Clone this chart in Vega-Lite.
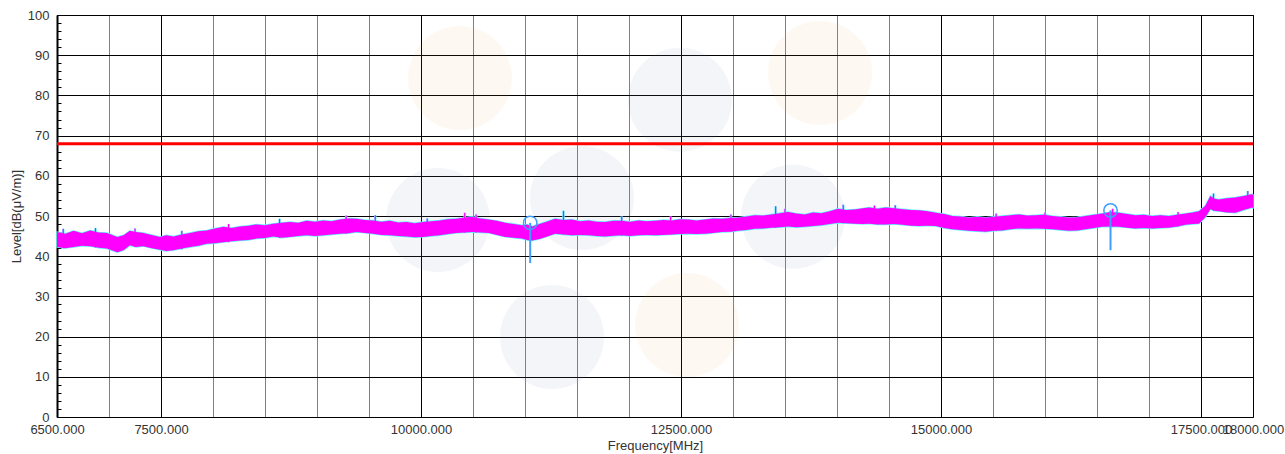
{
  "$schema": "https://vega.github.io/schema/vega-lite/v6.json",
  "width": 1196,
  "height": 402,
  "autosize": {"type": "none"},
  "padding": {"left": 57, "top": 15, "right": 32, "bottom": 37},
  "background": "white",
  "config": {
    "view": {"stroke": "black", "strokeWidth": 1},
    "font": "Liberation Sans"
  },
  "datasets": {
    "watermark": [
      {"f": 10375, "lo": 84.3, "kind": "o"},
      {"f": 13837, "lo": 85.6, "kind": "o"},
      {"f": 12558, "lo": 22.9, "kind": "o"},
      {"f": 12490, "lo": 78.9, "kind": "b"},
      {"f": 11548, "lo": 54.5, "kind": "b"},
      {"f": 10163, "lo": 49.0, "kind": "b"},
      {"f": 11260, "lo": 19.9, "kind": "b"},
      {"f": 13577, "lo": 49.8, "kind": "b"}
    ],
    "trace": [
      {"f": 6500, "hi": 46.0, "lo": 42.3}, {"f": 6580, "hi": 45.6, "lo": 42.0}, {"f": 6660, "hi": 46.3, "lo": 42.3},
      {"f": 6740, "hi": 45.7, "lo": 42.6}, {"f": 6820, "hi": 46.4, "lo": 42.5}, {"f": 6900, "hi": 45.9, "lo": 42.1},
      {"f": 6980, "hi": 45.8, "lo": 41.9}, {"f": 7080, "hi": 44.8, "lo": 41.0}, {"f": 7140, "hi": 45.2, "lo": 41.5},
      {"f": 7200, "hi": 46.3, "lo": 42.7}, {"f": 7260, "hi": 46.0, "lo": 42.3}, {"f": 7330, "hi": 45.8, "lo": 42.5},
      {"f": 7410, "hi": 45.3, "lo": 42.0}, {"f": 7490, "hi": 44.8, "lo": 41.6}, {"f": 7550, "hi": 45.2, "lo": 41.3},
      {"f": 7620, "hi": 44.9, "lo": 41.5}, {"f": 7700, "hi": 45.4, "lo": 41.9}, {"f": 7780, "hi": 45.8, "lo": 42.3},
      {"f": 7860, "hi": 46.2, "lo": 42.6}, {"f": 7940, "hi": 46.4, "lo": 43.1}, {"f": 8020, "hi": 46.9, "lo": 43.2},
      {"f": 8100, "hi": 47.3, "lo": 43.5}, {"f": 8180, "hi": 47.0, "lo": 43.7}, {"f": 8260, "hi": 47.4, "lo": 43.9},
      {"f": 8340, "hi": 47.6, "lo": 44.0}, {"f": 8420, "hi": 47.9, "lo": 44.4}, {"f": 8500, "hi": 47.7, "lo": 44.5},
      {"f": 8580, "hi": 48.1, "lo": 44.9}, {"f": 8660, "hi": 48.3, "lo": 44.6}, {"f": 8740, "hi": 48.5, "lo": 44.8},
      {"f": 8820, "hi": 48.3, "lo": 45.0}, {"f": 8900, "hi": 48.8, "lo": 45.2}, {"f": 8980, "hi": 48.6, "lo": 45.0},
      {"f": 9060, "hi": 48.9, "lo": 45.2}, {"f": 9140, "hi": 48.7, "lo": 45.4}, {"f": 9220, "hi": 49.1, "lo": 45.6},
      {"f": 9300, "hi": 49.4, "lo": 45.7}, {"f": 9380, "hi": 49.3, "lo": 46.0}, {"f": 9460, "hi": 49.0, "lo": 45.8},
      {"f": 9540, "hi": 48.9, "lo": 45.6}, {"f": 9620, "hi": 48.6, "lo": 45.3}, {"f": 9700, "hi": 48.8, "lo": 45.2},
      {"f": 9780, "hi": 48.4, "lo": 45.0}, {"f": 9860, "hi": 48.5, "lo": 44.9}, {"f": 9940, "hi": 48.2, "lo": 44.7},
      {"f": 10020, "hi": 48.5, "lo": 44.8}, {"f": 10100, "hi": 48.7, "lo": 45.0}, {"f": 10180, "hi": 48.9, "lo": 45.2},
      {"f": 10260, "hi": 49.2, "lo": 45.5}, {"f": 10340, "hi": 49.3, "lo": 45.8}, {"f": 10420, "hi": 49.6, "lo": 45.9},
      {"f": 10490, "hi": 49.8, "lo": 46.0}, {"f": 10570, "hi": 49.4, "lo": 45.9}, {"f": 10650, "hi": 49.1, "lo": 45.8},
      {"f": 10730, "hi": 48.8, "lo": 45.3}, {"f": 10810, "hi": 48.3, "lo": 44.8}, {"f": 10890, "hi": 48.0, "lo": 44.6},
      {"f": 10970, "hi": 47.7, "lo": 44.4}, {"f": 11020, "hi": 47.9, "lo": 44.0}, {"f": 11070, "hi": 47.4, "lo": 43.9},
      {"f": 11140, "hi": 48.0, "lo": 44.3}, {"f": 11200, "hi": 48.5, "lo": 44.8}, {"f": 11290, "hi": 49.3, "lo": 45.6},
      {"f": 11370, "hi": 49.0, "lo": 45.4}, {"f": 11450, "hi": 49.1, "lo": 45.2}, {"f": 11530, "hi": 48.7, "lo": 45.3},
      {"f": 11610, "hi": 48.9, "lo": 45.2}, {"f": 11690, "hi": 48.6, "lo": 45.0}, {"f": 11770, "hi": 48.5, "lo": 44.9},
      {"f": 11850, "hi": 48.8, "lo": 45.1}, {"f": 11930, "hi": 48.8, "lo": 45.2}, {"f": 12010, "hi": 48.6, "lo": 45.0},
      {"f": 12090, "hi": 48.9, "lo": 45.2}, {"f": 12170, "hi": 48.7, "lo": 45.3}, {"f": 12250, "hi": 48.8, "lo": 45.2},
      {"f": 12330, "hi": 49.0, "lo": 45.3}, {"f": 12410, "hi": 48.9, "lo": 45.4}, {"f": 12490, "hi": 49.2, "lo": 45.5},
      {"f": 12570, "hi": 49.1, "lo": 45.6}, {"f": 12650, "hi": 48.9, "lo": 45.5}, {"f": 12730, "hi": 49.1, "lo": 45.6},
      {"f": 12810, "hi": 49.4, "lo": 45.8}, {"f": 12890, "hi": 49.3, "lo": 46.0}, {"f": 12970, "hi": 49.5, "lo": 46.1},
      {"f": 13050, "hi": 49.6, "lo": 46.3}, {"f": 13130, "hi": 49.9, "lo": 46.5}, {"f": 13210, "hi": 50.2, "lo": 46.8},
      {"f": 13290, "hi": 50.1, "lo": 46.9}, {"f": 13370, "hi": 50.4, "lo": 47.1}, {"f": 13450, "hi": 50.7, "lo": 47.2},
      {"f": 13530, "hi": 51.0, "lo": 47.4}, {"f": 13610, "hi": 50.6, "lo": 47.2}, {"f": 13690, "hi": 50.4, "lo": 47.3},
      {"f": 13770, "hi": 50.9, "lo": 47.5}, {"f": 13850, "hi": 50.7, "lo": 47.7}, {"f": 13930, "hi": 51.2, "lo": 48.0},
      {"f": 14010, "hi": 51.8, "lo": 48.3}, {"f": 14090, "hi": 51.5, "lo": 48.2}, {"f": 14170, "hi": 51.6, "lo": 48.1},
      {"f": 14250, "hi": 51.9, "lo": 48.0}, {"f": 14310, "hi": 52.1, "lo": 48.1}, {"f": 14390, "hi": 51.8, "lo": 47.9},
      {"f": 14470, "hi": 52.1, "lo": 47.9}, {"f": 14550, "hi": 51.9, "lo": 48.0}, {"f": 14630, "hi": 51.7, "lo": 47.8},
      {"f": 14710, "hi": 51.5, "lo": 47.6}, {"f": 14790, "hi": 51.4, "lo": 47.5}, {"f": 14870, "hi": 51.2, "lo": 47.6},
      {"f": 14950, "hi": 50.8, "lo": 47.5}, {"f": 15030, "hi": 50.5, "lo": 47.0}, {"f": 15110, "hi": 50.0, "lo": 46.7},
      {"f": 15190, "hi": 49.9, "lo": 46.5}, {"f": 15270, "hi": 49.6, "lo": 46.3}, {"f": 15350, "hi": 49.8, "lo": 46.2},
      {"f": 15430, "hi": 49.6, "lo": 46.1}, {"f": 15510, "hi": 49.8, "lo": 46.3}, {"f": 15590, "hi": 50.0, "lo": 46.4},
      {"f": 15670, "hi": 50.2, "lo": 46.7}, {"f": 15750, "hi": 50.4, "lo": 46.9}, {"f": 15830, "hi": 50.1, "lo": 46.8},
      {"f": 15910, "hi": 50.2, "lo": 46.9}, {"f": 15990, "hi": 50.3, "lo": 46.8}, {"f": 16070, "hi": 50.0, "lo": 46.7},
      {"f": 16150, "hi": 49.8, "lo": 46.5}, {"f": 16230, "hi": 49.6, "lo": 46.3}, {"f": 16310, "hi": 49.7, "lo": 46.4},
      {"f": 16390, "hi": 50.0, "lo": 46.7}, {"f": 16470, "hi": 50.3, "lo": 47.0}, {"f": 16550, "hi": 50.6, "lo": 47.3},
      {"f": 16630, "hi": 51.0, "lo": 47.4}, {"f": 16710, "hi": 50.8, "lo": 47.3}, {"f": 16790, "hi": 50.5, "lo": 47.1},
      {"f": 16870, "hi": 50.2, "lo": 46.9}, {"f": 16950, "hi": 50.3, "lo": 47.0}, {"f": 17030, "hi": 50.0, "lo": 46.9},
      {"f": 17110, "hi": 50.2, "lo": 47.0}, {"f": 17190, "hi": 50.0, "lo": 47.1}, {"f": 17270, "hi": 50.3, "lo": 47.4},
      {"f": 17350, "hi": 50.6, "lo": 47.8}, {"f": 17420, "hi": 50.9, "lo": 48.0}, {"f": 17480, "hi": 51.2, "lo": 48.1},
      {"f": 17540, "hi": 52.5, "lo": 49.6}, {"f": 17590, "hi": 55.0, "lo": 51.7}, {"f": 17630, "hi": 54.3, "lo": 51.3},
      {"f": 17670, "hi": 54.1, "lo": 51.2}, {"f": 17750, "hi": 54.4, "lo": 50.9}, {"f": 17830, "hi": 54.6, "lo": 50.8},
      {"f": 17910, "hi": 55.0, "lo": 51.5}, {"f": 17990, "hi": 55.4, "lo": 52.1}, {"f": 18000, "hi": 55.3, "lo": 52.0}
    ],
    "spikes": [
      {"f": 6560, "lo": 42.0, "hi": 46.8}, {"f": 6870, "lo": 42.2, "hi": 47.0}, {"f": 7250, "lo": 42.3, "hi": 46.9},
      {"f": 7700, "lo": 41.7, "hi": 46.3}, {"f": 8150, "lo": 43.5, "hi": 48.0}, {"f": 8640, "lo": 44.6, "hi": 49.3},
      {"f": 9280, "lo": 45.6, "hi": 50.1}, {"f": 9560, "lo": 45.6, "hi": 50.2}, {"f": 10060, "lo": 44.9, "hi": 49.4},
      {"f": 10420, "lo": 45.9, "hi": 50.8}, {"f": 10530, "lo": 45.9, "hi": 50.4}, {"f": 11370, "lo": 45.4, "hi": 51.3},
      {"f": 11930, "lo": 45.1, "hi": 49.9}, {"f": 12400, "lo": 45.4, "hi": 49.9}, {"f": 12980, "lo": 46.1, "hi": 50.4},
      {"f": 13410, "lo": 47.1, "hi": 52.4}, {"f": 13500, "lo": 47.3, "hi": 51.8}, {"f": 14060, "lo": 48.2, "hi": 52.8},
      {"f": 14360, "lo": 48.0, "hi": 52.6}, {"f": 14560, "lo": 48.0, "hi": 52.7}, {"f": 15530, "lo": 46.3, "hi": 50.6},
      {"f": 16000, "lo": 46.8, "hi": 50.9}, {"f": 16650, "lo": 47.4, "hi": 51.8}, {"f": 17280, "lo": 47.4, "hi": 51.0},
      {"f": 17620, "lo": 51.3, "hi": 55.6}, {"f": 17950, "lo": 51.8, "hi": 56.2}
    ],
    "limit": [{"f": 6500, "lo": 68}, {"f": 18000, "lo": 68}],
    "markerStems": [
      {"f": 11050, "lo": 38.3, "hi": 48.3},
      {"f": 16630, "lo": 41.5, "hi": 51.4}
    ],
    "markerHeads": [
      {"f": 11050, "lo": 48.3},
      {"f": 16630, "lo": 51.4}
    ]
  },
  "encoding": {
    "x": {
      "field": "f", "type": "quantitative",
      "scale": {"domain": [6500, 18000], "nice": false, "zero": false},
      "axis": {
        "title": "Frequency[MHz]",
        "values": [6500, 7000, 7500, 8000, 8500, 9000, 9500, 10000, 10500, 11000, 11500, 12000, 12500, 13000, 13500, 14000, 14500, 15000, 15500, 16000, 16500, 17000, 17500, 18000],
        "labelExpr": "(datum.value % 2500 === 0 || datum.value === 6500 || datum.value === 18000) ? format(datum.value, '.3f') : ''",
        "labelOverlap": false,
        "labelFlush": false,
        "labelBound": false,
        "labelFontSize": 13,
        "labelColor": "#333333",
        "labelPadding": 6,
        "ticks": false,
        "domain": false,
        "grid": true,
        "gridColor": {"condition": {"test": "datum.value % 2500 === 0", "value": "#000000"}, "value": "#000000"},
        "gridDash": {"condition": {"test": "datum.value % 2500 === 0", "value": []}, "value": [1, 1]},
        "gridOpacity": 1,
        "gridWidth": 1,
        "titleFontSize": 13,
        "titleFontWeight": "normal",
        "titleColor": "#333333",
        "titlePadding": 3
      }
    },
    "y": {
      "field": "lo", "type": "quantitative",
      "scale": {"domain": [0, 100], "nice": false},
      "axis": {
        "title": "Level[dB(μV/m)]",
        "values": [0, 2, 4, 6, 8, 10, 12, 14, 16, 18, 20, 22, 24, 26, 28, 30, 32, 34, 36, 38, 40, 42, 44, 46, 48, 50, 52, 54, 56, 58, 60, 62, 64, 66, 68, 70, 72, 74, 76, 78, 80, 82, 84, 86, 88, 90, 92, 94, 96, 98, 100],
        "labelExpr": "datum.value % 10 === 0 ? datum.label : ''",
        "labelOverlap": false,
        "labelBound": false,
        "labelFontSize": 13,
        "labelColor": "#333333",
        "labelPadding": 12,
        "ticks": true,
        "tickSize": -4,
        "tickColor": "#000000",
        "domain": true,
        "domainColor": "#000000",
        "domainWidth": 2,
        "grid": true,
        "gridColor": "#000000",
        "gridOpacity": {"condition": {"test": "datum.value % 10 === 0", "value": 1}, "value": 0},
        "gridWidth": 1,
        "titleFontSize": 13,
        "titleFontWeight": "normal",
        "titleColor": "#333333",
        "titlePadding": 4
      }
    }
  },
  "layer": [
    {
      "data": {"name": "watermark"},
      "mark": {"type": "point", "shape": "circle", "filled": true, "size": 10800, "strokeWidth": 0},
      "encoding": {
        "color": {"field": "kind", "type": "nominal", "scale": {"domain": ["o", "b"], "range": ["#f0a040", "#7f8fbf"]}, "legend": null},
        "opacity": {"field": "kind", "type": "nominal", "scale": {"domain": ["o", "b"], "range": [0.07, 0.09]}, "legend": null}
      }
    },
    {
      "data": {"name": "trace"},
      "mark": {"type": "area", "color": "#5ff5ff", "stroke": "#5ff5ff", "strokeWidth": 1.4},
      "encoding": {"y2": {"field": "hi"}}
    },
    {
      "data": {"name": "spikes"},
      "mark": {"type": "rule", "color": "#5ff5ff", "strokeWidth": 2.5},
      "encoding": {"y2": {"field": "hi"}}
    },
    {
      "data": {"name": "trace"},
      "mark": {"type": "area", "color": "#ff00ff"},
      "encoding": {"y2": {"field": "hi"}}
    },
    {
      "data": {"name": "spikes"},
      "mark": {"type": "rule", "color": "#ff00ff", "strokeWidth": 1.2},
      "encoding": {"y2": {"field": "hi"}}
    },
    {
      "data": {"name": "limit"},
      "mark": {"type": "line", "color": "#ff0000", "strokeWidth": 3},
      "encoding": {}
    },
    {
      "data": {"name": "markerStems"},
      "mark": {"type": "rule", "color": "#3d9eff", "strokeWidth": 2},
      "encoding": {"y2": {"field": "hi"}}
    },
    {
      "data": {"name": "markerHeads"},
      "mark": {"type": "point", "shape": "circle", "filled": false, "color": "#3d9eff", "strokeWidth": 1.5, "size": 180, "opacity": 1},
      "encoding": {}
    }
  ]
}
